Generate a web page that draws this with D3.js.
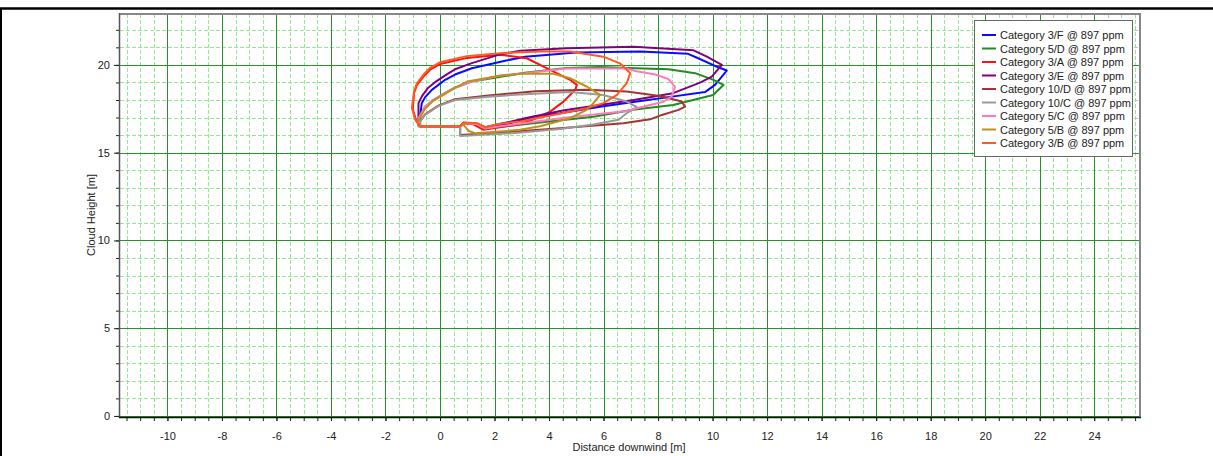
<!DOCTYPE html>
<html>
<head>
<meta charset="utf-8">
<script src="https://cdn.jsdelivr.net/npm/d3@7/dist/d3.min.js"></script>
<style>
  html, body { margin: 0; padding: 0; background: #fff; }
  svg { display: block; }
  text { font-family: "Liberation Sans", Arial, sans-serif; }
</style>
</head>
<body>
<svg id="chart" width="1213" height="456"></svg>
<script>
// ---------------- DATA ----------------
const seriesNames = [
  "Category 3/F @ 897 ppm",
  "Category 5/D @ 897 ppm",
  "Category 3/A @ 897 ppm",
  "Category 3/E @ 897 ppm",
  "Category 10/D @ 897 ppm",
  "Category 10/C @ 897 ppm",
  "Category 5/C @ 897 ppm",
  "Category 5/B @ 897 ppm",
  "Category 3/B @ 897 ppm"
];

const cat3F = [[-0.73,16.5],[0.74,16.5],[0.86,16.68],[1.35,16.64],[1.65,16.42],[2.39,16.6],[3.43,17.05],[4.41,17.25],[5.87,17.62],[7.16,17.9],[8.32,18.15],[9.72,18.45],[10.09,18.86],[10.52,19.68],[10.09,19.94],[9.47,20.38],[9.1,20.63],[7.35,20.76],[5.0,20.7],[3.12,20.47],[2.39,20.24],[1.17,19.81],[0.55,19.45],[0.19,19.15],[-0.3,18.58],[-0.55,18.15],[-0.67,17.82],[-0.73,17.05],[-0.73,16.5]];
const cat5D = [[-0.79,16.5],[0.74,16.5],[0.86,16.68],[1.35,16.62],[1.65,16.38],[3.0,16.6],[5.62,17.05],[7.08,17.44],[8.55,17.72],[10.02,18.29],[10.4,18.86],[10.03,19.15],[9.36,19.53],[8.38,19.75],[7.16,19.81],[5.87,19.88],[4.65,19.82],[3.12,19.55],[1.17,19.05],[0.55,18.7],[0.19,18.4],[-0.25,18.0],[-0.55,17.62],[-0.79,16.95],[-0.79,16.5]];
const cat3A = [[-0.73,16.5],[0.74,16.5],[0.86,16.7],[1.2,16.62],[1.6,16.3],[2.2,16.45],[2.94,16.62],[3.43,16.9],[4.04,17.34],[4.53,17.91],[4.96,18.58],[5.02,18.86],[4.77,19.15],[4.04,19.72],[3.18,20.38],[2.2,20.58],[1.0,20.4],[0.0,20.05],[-0.35,19.75],[-0.6,19.35],[-0.85,18.85],[-0.95,18.4],[-1.0,17.5],[-0.88,16.85],[-0.73,16.5]];
const cat3E = [[-0.79,16.5],[0.74,16.5],[0.86,16.7],[1.35,16.66],[1.65,16.45],[2.4,16.7],[3.12,16.96],[4.5,17.4],[7.16,18.02],[8.55,18.39],[9.54,18.99],[9.97,19.33],[10.34,20.0],[9.79,20.47],[9.3,20.83],[7.1,21.04],[4.65,20.95],[2.94,20.8],[2.2,20.6],[1.17,20.1],[0.55,19.75],[0.19,19.4],[-0.15,19.05],[-0.43,18.7],[-0.65,18.25],[-0.79,17.82],[-0.79,16.95],[-0.79,16.5]];
const cat10D = [[-0.73,16.5],[0.74,16.5],[0.74,16.0],[2.2,16.15],[4.41,16.39],[6.73,16.68],[7.71,16.9],[8.14,17.15],[8.75,17.44],[8.99,17.62],[8.87,17.91],[8.07,18.23],[6.85,18.48],[5.38,18.58],[3.5,18.5],[1.78,18.25],[0.55,18.05],[-0.06,17.68],[-0.55,17.18],[-0.73,16.8],[-0.73,16.5]];
const cat10C = [[-0.73,16.5],[0.74,16.5],[0.74,15.95],[2.75,16.12],[4.41,16.35],[5.63,16.6],[6.55,16.87],[6.85,17.25],[7.22,17.6],[6.85,17.91],[5.99,18.29],[4.77,18.45],[2.75,18.3],[1.78,18.18],[0.55,18.0],[-0.06,17.65],[-0.55,17.15],[-0.73,16.8],[-0.73,16.5]];
const cat5C = [[-0.79,16.5],[0.74,16.5],[0.86,16.68],[1.35,16.62],[1.65,16.38],[2.2,16.5],[4.65,17.0],[6.85,17.38],[7.4,17.6],[8.2,17.9],[8.5,18.2],[8.62,18.75],[8.38,19.19],[7.9,19.45],[7.16,19.65],[6.85,19.8],[4.65,19.8],[3.12,19.53],[2.2,19.4],[1.17,19.05],[0.55,18.7],[0.19,18.39],[-0.25,18.0],[-0.55,17.62],[-0.79,16.95],[-0.79,16.5]];
const cat5B = [[-0.79,16.5],[0.74,16.5],[0.86,16.6],[1.04,16.25],[1.3,16.1],[2.94,16.3],[3.67,16.5],[4.77,16.96],[5.38,17.44],[5.63,17.82],[5.87,18.29],[5.38,18.77],[4.77,19.24],[4.16,19.5],[2.94,19.5],[2.2,19.38],[1.0,19.05],[0.55,18.7],[0.19,18.35],[-0.25,17.95],[-0.55,17.5],[-0.79,16.85],[-0.79,16.5]];
const cat3B = [[-0.73,16.5],[0.74,16.5],[0.86,16.72],[1.35,16.68],[1.65,16.45],[2.2,16.65],[2.94,16.77],[4.16,17.15],[5.38,17.53],[5.99,17.82],[6.49,18.29],[6.85,18.96],[6.98,19.53],[6.6,20.09],[5.99,20.47],[4.77,20.76],[3.67,20.76],[2.2,20.67],[0.98,20.5],[0.0,20.15],[-0.35,19.85],[-0.6,19.45],[-0.85,18.95],[-0.95,18.5],[-1.03,17.55],[-0.9,16.85],[-0.73,16.5]];

const seriesValues = [cat3F, cat5D, cat3A, cat3E, cat10D, cat10C, cat5C, cat5B, cat3B];
const seriesColors = ["#0a0aff", "#228b22", "#ff1212", "#800080", "#a83232", "#9a9a9a", "#ff78c0", "#c0901e", "#ff5a20"];

const xTickValues = [-10,-8,-6,-4,-2,0,2,4,6,8,10,12,14,16,18,20,22,24];
const yTickValues = [0,5,10,15,20];
const xTitle = "Distance downwind [m]";
const yTitle = "Cloud Height [m]";

// ---------------- LAYOUT ----------------
const W = 1213, H = 456;
const plot = { left: 120, right: 1140, top: 14, bottom: 417 };

const svg = d3.select("#chart");
svg.append("rect").attr("width", W).attr("height", H).attr("fill", "#fff");

const x = d3.scaleLinear().domain([-11.74, 25.68]).range([plot.left, plot.right]);
const y = d3.scaleLinear().domain([-0.06, 22.9]).range([plot.bottom, plot.top]);

// outer border lines
svg.append("line").attr("x1", 0).attr("x2", W).attr("y1", 8.5).attr("y2", 8.5)
  .attr("stroke", "#000").attr("stroke-width", 2.5);
svg.append("line").attr("x1", 1).attr("x2", 1).attr("y1", 8).attr("y2", H)
  .attr("stroke", "#000").attr("stroke-width", 2);

// clip
svg.append("clipPath").attr("id", "clip").append("rect")
  .attr("x", plot.left).attr("y", plot.top)
  .attr("width", plot.right - plot.left).attr("height", plot.bottom - plot.top);

const grid = svg.append("g").attr("clip-path", "url(#clip)");

// minor grid
const minorX = d3.range(-11.5, 25.75, 0.5).filter(v => Math.abs(v % 2) > 1e-9);
const minorY = d3.range(0, 23, 1).filter(v => v % 5 !== 0);
grid.selectAll(".mx").data(minorX).join("line")
  .attr("x1", d => Math.round(x(d)) + 0.5).attr("x2", d => Math.round(x(d)) + 0.5)
  .attr("y1", plot.top).attr("y2", plot.bottom)
  .attr("stroke", "#93e893").attr("stroke-width", 1).attr("stroke-dasharray", "4,2");
grid.selectAll(".my").data(minorY).join("line")
  .attr("x1", plot.left).attr("x2", plot.right)
  .attr("y1", d => Math.round(y(d)) + 0.5).attr("y2", d => Math.round(y(d)) + 0.5)
  .attr("stroke", "#93e893").attr("stroke-width", 1).attr("stroke-dasharray", "4,2");

// major grid
grid.selectAll(".Mx").data(xTickValues).join("line")
  .attr("x1", d => Math.round(x(d)) + 0.5).attr("x2", d => Math.round(x(d)) + 0.5)
  .attr("y1", plot.top).attr("y2", plot.bottom)
  .attr("stroke", "#2a922a").attr("stroke-width", 1);
grid.selectAll(".My").data(yTickValues).join("line")
  .attr("x1", plot.left).attr("x2", plot.right)
  .attr("y1", d => Math.round(y(d)) + 0.5).attr("y2", d => Math.round(y(d)) + 0.5)
  .attr("stroke", "#2a922a").attr("stroke-width", 1);

// frame (top & right)
svg.append("line").attr("x1", plot.left).attr("x2", plot.right).attr("y1", plot.top).attr("y2", plot.top)
  .attr("stroke", "#888").attr("stroke-width", 2);
svg.append("line").attr("x1", plot.right).attr("x2", plot.right).attr("y1", plot.top - 1).attr("y2", plot.bottom)
  .attr("stroke", "#888").attr("stroke-width", 2);

// series
const line = d3.line().x(d => x(d[0])).y(d => y(d[1]));
const lines = svg.append("g").attr("clip-path", "url(#clip)");
seriesValues.forEach((vals, i) => {
  lines.append("path").datum(vals).attr("d", line)
    .attr("fill", "none").attr("stroke", seriesColors[i])
    .attr("stroke-width", 2).attr("stroke-linejoin", "round");
});

// axes
const fmt = d => String(d);
const xAxisMinor = d3.axisBottom(x).tickValues(d3.range(-11.5, 25.75, 0.5)).tickSize(4).tickFormat("");
svg.append("g").attr("transform", `translate(0,${plot.bottom})`).call(xAxisMinor)
  .call(g => g.select(".domain").remove())
  .call(g => g.selectAll("line").attr("stroke", "#222"));
const xAxis = d3.axisBottom(x).tickValues(xTickValues).tickSize(4).tickPadding(11).tickFormat(fmt);
svg.append("g").attr("transform", `translate(0,${plot.bottom})`).call(xAxis)
  .call(g => g.select(".domain").remove())
  .call(g => g.selectAll("line").attr("stroke", "#222"))
  .call(g => g.selectAll("text").attr("font-size", 11).attr("fill", "#222").attr("font-family", "Liberation Sans, Arial, sans-serif"));

const yAxisMinor = d3.axisLeft(y).tickValues(d3.range(0, 23, 1)).tickSize(4).tickFormat("");
svg.append("g").attr("transform", `translate(${plot.left},0)`).call(yAxisMinor)
  .call(g => g.select(".domain").remove())
  .call(g => g.selectAll("line").attr("stroke", "#222"));
const yAxis = d3.axisLeft(y).tickValues(yTickValues).tickSize(6).tickPadding(4).tickFormat(fmt);
svg.append("g").attr("transform", `translate(${plot.left},0)`).call(yAxis)
  .call(g => g.select(".domain").remove())
  .call(g => g.selectAll("line").attr("stroke", "#222"))
  .call(g => g.selectAll("text").attr("font-size", 11).attr("fill", "#222").attr("font-family", "Liberation Sans, Arial, sans-serif"));

// axis lines
svg.append("line").attr("x1", plot.left - 0.5).attr("x2", plot.left - 0.5).attr("y1", plot.top - 1).attr("y2", plot.bottom + 1)
  .attr("stroke", "#555").attr("stroke-width", 1.5);
svg.append("line").attr("x1", plot.left - 1).attr("x2", plot.right + 1).attr("y1", plot.bottom + 0.5).attr("y2", plot.bottom + 0.5)
  .attr("stroke", "#111").attr("stroke-width", 1.5);

// titles
svg.append("text").attr("x", 629).attr("y", 451).attr("text-anchor", "middle")
  .attr("font-size", 11).attr("fill", "#222").text(xTitle);
svg.append("text").attr("transform", "translate(95,215) rotate(-90)").attr("text-anchor", "middle")
  .attr("font-size", 11).attr("fill", "#222").text(yTitle);

// legend
const lg = svg.append("g");
lg.append("rect").attr("x", 974.5).attr("y", 20.5).attr("width", 158).attr("height", 136)
  .attr("fill", "#fff").attr("stroke", "#666").attr("stroke-width", 1);
seriesNames.forEach((name, i) => {
  const cy = 35 + i * 13.5;
  lg.append("line").attr("x1", 982).attr("x2", 996).attr("y1", cy).attr("y2", cy)
    .attr("stroke", seriesColors[i]).attr("stroke-width", 2);
  lg.append("text").attr("x", 1000).attr("y", cy + 4).attr("font-size", 11).attr("fill", "#222").text(name);
});
</script>
</body>
</html>
